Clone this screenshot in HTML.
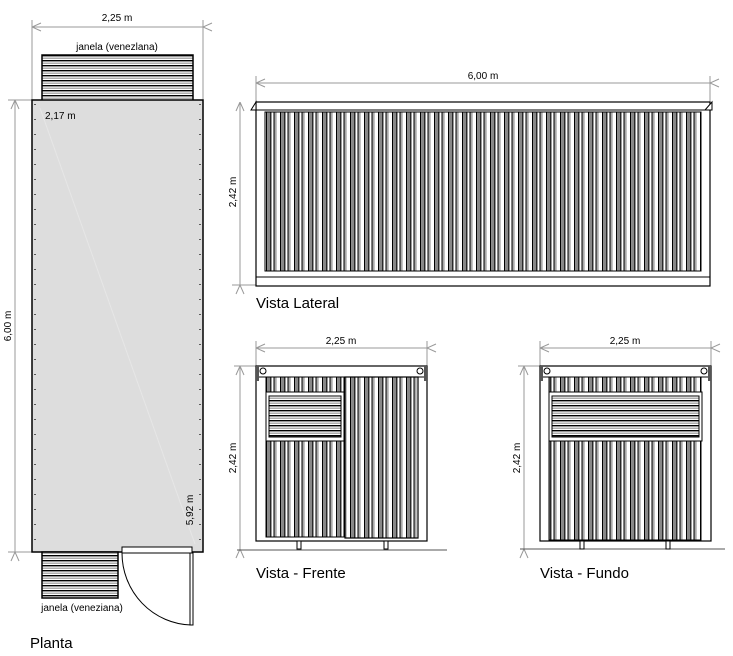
<!DOCTYPE html>
<html><head><meta charset="utf-8"><style>
html,body{margin:0;padding:0;background:#fff;}
svg{display:block;font-family:"Liberation Sans",Arial,sans-serif;}
</style></head><body>
<svg width="733" height="656" viewBox="0 0 733 656" xmlns="http://www.w3.org/2000/svg">
<defs>
<pattern id="cv" x="0" y="0" width="14" height="10" patternUnits="userSpaceOnUse">
<rect x="0" y="0" width="14" height="10" fill="#fff"/>
<rect x="0" y="0" width="1.2" height="10" fill="#000"/>
<rect x="1.2" y="0" width="3" height="10" fill="#888"/>
<rect x="4.2" y="0" width="1.2" height="10" fill="#000"/>
<rect x="7.5" y="0" width="1.2" height="10" fill="#000"/>
<rect x="8.7" y="0" width="2" height="10" fill="#aaa"/>
</pattern>
<pattern id="ch" x="0" y="0" width="10" height="5" patternUnits="userSpaceOnUse">
<rect width="10" height="5" fill="#fff"/>
<rect y="0" width="10" height="1.4" fill="#000"/>
<rect y="2.6" width="10" height="1.2" fill="#999"/>
</pattern>
<marker id="a" markerWidth="10" markerHeight="10" refX="0" refY="5" orient="auto" markerUnits="userSpaceOnUse">
<path d="M9,1 L0,5 L9,9" fill="none" stroke="#999" stroke-width="1"/>
</marker>
</defs>
<g stroke="#999" stroke-width="1" fill="none">
<line x1="32" y1="27" x2="203" y2="27" marker-start="url(#a)" marker-end="url(#a)"/>
<line x1="32" y1="20" x2="32" y2="100"/><line x1="203" y1="20" x2="203" y2="100"/>
<line x1="15" y1="100" x2="15" y2="552" marker-start="url(#a)" marker-end="url(#a)"/>
<line x1="8" y1="100" x2="32" y2="100"/><line x1="8" y1="552" x2="32" y2="552"/>
<line x1="256" y1="83" x2="710" y2="83" marker-start="url(#a)" marker-end="url(#a)"/>
<line x1="256" y1="76" x2="256" y2="102"/><line x1="710" y1="76" x2="710" y2="102"/>
<line x1="240" y1="102" x2="240" y2="285" marker-start="url(#a)" marker-end="url(#a)"/>
<line x1="232" y1="285" x2="256" y2="285"/>
<line x1="256" y1="348" x2="427" y2="348" marker-start="url(#a)" marker-end="url(#a)"/>
<line x1="256" y1="341" x2="256" y2="366"/><line x1="427" y1="341" x2="427" y2="366"/>
<line x1="240" y1="366" x2="240" y2="549" marker-start="url(#a)" marker-end="url(#a)"/>
<line x1="234" y1="366" x2="256" y2="366"/>
<line x1="540" y1="348" x2="711" y2="348" marker-start="url(#a)" marker-end="url(#a)"/>
<line x1="540" y1="341" x2="540" y2="366"/><line x1="711" y1="341" x2="711" y2="366"/>
<line x1="524" y1="366" x2="524" y2="549" marker-start="url(#a)" marker-end="url(#a)"/>
<line x1="518" y1="366" x2="540" y2="366"/>
</g>
<!-- PLANTA -->
<rect x="42" y="55" width="151" height="47" fill="url(#ch)" stroke="#000" stroke-width="1.5"/>
<rect x="32" y="100" width="171" height="452" fill="#ddd" stroke="#000" stroke-width="1.5"/>
<line x1="35" y1="104" x2="35" y2="548" stroke="#000" stroke-width="1.2" stroke-dasharray="1,14"/>
<line x1="200" y1="104" x2="200" y2="548" stroke="#000" stroke-width="1.2" stroke-dasharray="1,14"/>
<line x1="40" y1="108" x2="195" y2="544" stroke="#e6e6e6" stroke-width="1"/>
<rect x="42" y="552" width="76" height="46" fill="url(#ch)" stroke="#000" stroke-width="1.5"/>
<rect x="122" y="547" width="70" height="6" fill="#fff" stroke="#000" stroke-width="1"/>
<rect x="190" y="553" width="3" height="72" fill="#fff" stroke="#000" stroke-width="1"/>
<path d="M122,553 A71,72 0 0 0 191,625" fill="none" stroke="#000" stroke-width="1"/>
<g font-size="10" fill="#000">
<text x="117" y="21" text-anchor="middle">2,25 m</text>
<text x="117" y="50" text-anchor="middle">janela (venezlana)</text>
<text x="45" y="119">2,17 m</text>
<text x="82" y="611" text-anchor="middle">janela (veneziana)</text>
<text transform="translate(11,326) rotate(-90)" text-anchor="middle">6,00 m</text>
<text transform="translate(193,510) rotate(-90)" text-anchor="middle">5,92 m</text>
<text x="483" y="79" text-anchor="middle">6,00 m</text>
<text transform="translate(236,192) rotate(-90)" text-anchor="middle">2,42 m</text>
<text x="341" y="344" text-anchor="middle">2,25 m</text>
<text transform="translate(236,458) rotate(-90)" text-anchor="middle">2,42 m</text>
<text x="625" y="344" text-anchor="middle">2,25 m</text>
<text transform="translate(520,458) rotate(-90)" text-anchor="middle">2,42 m</text>
</g>
<g font-size="15" fill="#000">
<text x="30" y="648">Planta</text>
<text x="256" y="308">Vista Lateral</text>
<text x="256" y="578">Vista - Frente</text>
<text x="540" y="578">Vista - Fundo</text>
</g>
<!-- LATERAL -->
<rect x="256" y="102" width="454" height="184" fill="#fff" stroke="#000" stroke-width="1.2"/>
<rect x="265" y="112" width="436" height="159" fill="url(#cv)" stroke="#000" stroke-width="1"/>
<line x1="256" y1="110" x2="710" y2="110" stroke="#000"/>
<line x1="256" y1="277" x2="710" y2="277" stroke="#000"/>
<path d="M251,110 L256,102 L256,110 Z M705,110 L712,102 L712,110Z" fill="#fff" stroke="#000"/>
<!-- FRENTE -->
<line x1="237" y1="550" x2="447" y2="550" stroke="#555"/>
<rect x="256" y="366" width="171" height="175" fill="#fff" stroke="#000" stroke-width="1.2"/>
<line x1="256" y1="377" x2="427" y2="377" stroke="#000"/>
<rect x="266" y="377" width="152" height="160" fill="url(#cv)" stroke="#000"/>
<rect x="266" y="392" width="78" height="49" fill="#fff" stroke="#000"/>
<rect x="269" y="396" width="72" height="41" fill="url(#ch)" stroke="#000"/>
<rect x="345" y="377" width="73" height="161" fill="url(#cv)" stroke="#000" stroke-width="1.2"/>
<rect x="297" y="541" width="4" height="8" fill="#fff" stroke="#000"/>
<rect x="384" y="541" width="4" height="8" fill="#fff" stroke="#000"/>
<rect x="256" y="366" width="3" height="15" fill="#555"/><rect x="424" y="366" width="3" height="15" fill="#555"/>
<circle cx="263" cy="371" r="3" fill="#fff" stroke="#000"/><circle cx="420" cy="371" r="3" fill="#fff" stroke="#000"/>
<!-- FUNDO -->
<line x1="520" y1="549" x2="725" y2="549" stroke="#555"/>
<rect x="540" y="366" width="171" height="175" fill="#fff" stroke="#000" stroke-width="1.2"/>
<line x1="540" y1="377" x2="711" y2="377" stroke="#000"/>
<rect x="549" y="377" width="152" height="163" fill="url(#cv)" stroke="#000"/>
<rect x="549" y="392" width="153" height="49" fill="#fff" stroke="#000"/>
<rect x="552" y="396" width="147" height="41" fill="url(#ch)" stroke="#000"/>
<rect x="580" y="541" width="4" height="8" fill="#fff" stroke="#000"/>
<rect x="666" y="541" width="4" height="8" fill="#fff" stroke="#000"/>
<rect x="540" y="366" width="3" height="15" fill="#555"/><rect x="708" y="366" width="3" height="15" fill="#555"/>
<circle cx="547" cy="371" r="3" fill="#fff" stroke="#000"/><circle cx="704" cy="371" r="3" fill="#fff" stroke="#000"/>
</svg>
</body></html>
